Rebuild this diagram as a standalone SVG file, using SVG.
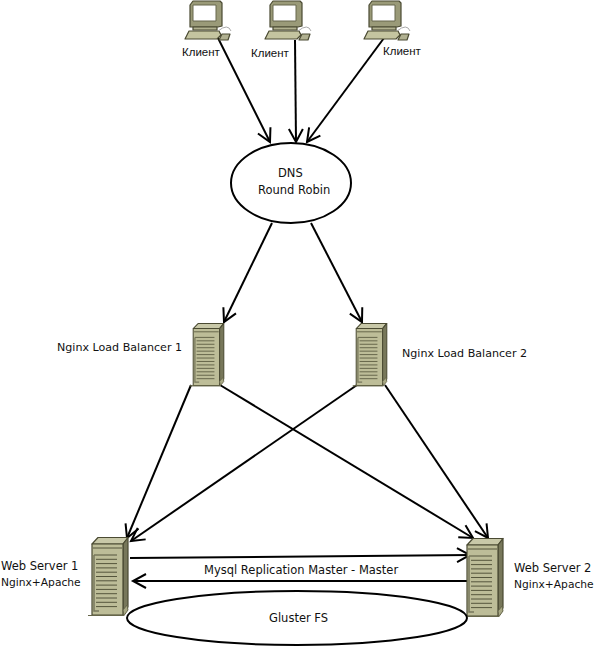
<svg xmlns="http://www.w3.org/2000/svg" width="596" height="646" viewBox="0 0 596 646">
<style>
text{font-family:"DejaVu Sans",Verdana,sans-serif;font-size:11.5px;fill:#111}
.k{font-family:"Liberation Sans",Arial,sans-serif;font-size:11.5px}
.n{font-size:11.1px}
.a{font-size:10.7px}
.c{stroke:#000;stroke-width:2;fill:none;marker-end:url(#a)}
.e{fill:#fff;stroke:#000;stroke-width:2}
.o{stroke:#4a4a32;stroke-width:1.2;stroke-linejoin:round}
.f{fill:#bdbd98}.t{fill:#c8c8a8}.s{fill:#77775a}
.v{stroke:#55553c;stroke-width:1;fill:none}
</style>
<defs>
<marker id="a" markerUnits="userSpaceOnUse" markerWidth="18" markerHeight="18" refX="15" refY="8" orient="auto" viewBox="0 0 18 16">
<path d="M2 1L15 8L2 15" fill="none" stroke="#000" stroke-width="2"/>
</marker>
<g id="srv">
<path class="o t" d="M2 7L8 0.5H38L33 7Z"/>
<path class="o s" d="M33 7L38 0.5V70L33 78Z"/>
<path class="o f" d="M2 7H33V78H2Z"/>
<path d="M-2 78.5H34L33 73L37 68L38 73L34 78.5Z" fill="#a8a884" stroke="#66664a"/>
<path class="v" d="M3 11H32" stroke-width="1.5"/>
<path class="v" d="M4 18H27M6 22.300H27M6 26.600H27M6 30.900H27M6 35.200H27M6 39.500H27M6 43.800H27M6 48.100H27M6 52.400H27M6 56.700H27M6 61H27M6 65.300H27M6 69.600H27"/>
<path d="M4 18V74H9" fill="none" stroke="#77775c" stroke-width="1.500"/>
</g>
<g id="pc">
<path class="o" fill="#9a9a78" d="M9 1H36L38 3V26L34 27H6V5Z"/>
<path d="M9 5H32V21H9Z" fill="#fff" stroke="#66664c"/>
<path class="o" fill="#b0b08e" d="M9 27H33V30H9Z"/>
<path class="o" fill="#c4c4a0" d="M5 31H35L37 35L33 39H1Z"/>
<path d="M34 31Q44 23 47 31" fill="none" stroke="#aaa"/>
<path class="o" fill="#b0b090" d="M38 34H46L44 40H35Z" stroke-width="1"/>
</g>
</defs>
<g id="connectors">
<path class="c" d="M218 38L270 142"/>
<path class="c" d="M295 40L296 142"/>
<path class="c" d="M384 38L307 142"/>
<path class="c" d="M272 223L224 322"/>
<path class="c" d="M311 223L362 322"/>
<path class="c" d="M191 385L127 538"/>
<path class="c" d="M220 385L473 538"/>
<path class="c" d="M357 385L131 541"/>
<path class="c" d="M385 385L488 538"/>
<path class="c" d="M130 558L470 555"/>
<path class="c" d="M467 581H133"/>
</g>
<g id="client1"><use href="#pc" x="184" y="0"/><text class="k" x="182" y="56">Клиент</text></g>
<g id="client2"><use href="#pc" x="264" y="0"/><text class="k" x="251" y="57">Клиент</text></g>
<g id="client3"><use href="#pc" x="363" y="0"/><text class="k" x="383" y="55">Клиент</text></g>
<g id="dns"><ellipse class="e" cx="291" cy="183" rx="60" ry="40"/>
<text x="278" y="177">DNS</text><text x="258" y="194">Round Robin</text></g>
<g id="lb1"><use href="#srv" transform="translate(191.500 323) scale(.85 .8)"/><text class="n" x="57" y="351">Nginx Load Balancer 1</text></g>
<g id="lb2"><use href="#srv" transform="translate(354.500 323) scale(.85 .8)"/><text class="n" x="402" y="357">Nginx Load Balancer 2</text></g>
<g id="web1"><use href="#srv" x="90" y="537"/><text x="1" y="570">Web Server 1</text><text class="a" x="1" y="586">Nginx+Apache</text></g>
<g id="web2"><use href="#srv" x="465" y="538"/><text x="514" y="572">Web Server 2</text><text class="a" x="514" y="588">Nginx+Apache</text></g>
<g id="gluster"><ellipse class="e" cx="297" cy="618" rx="170" ry="27"/><text x="269" y="622">Gluster FS</text></g>
<text id="mysql" x="204" y="574">Mysql Replication Master - Master</text>
</svg>
